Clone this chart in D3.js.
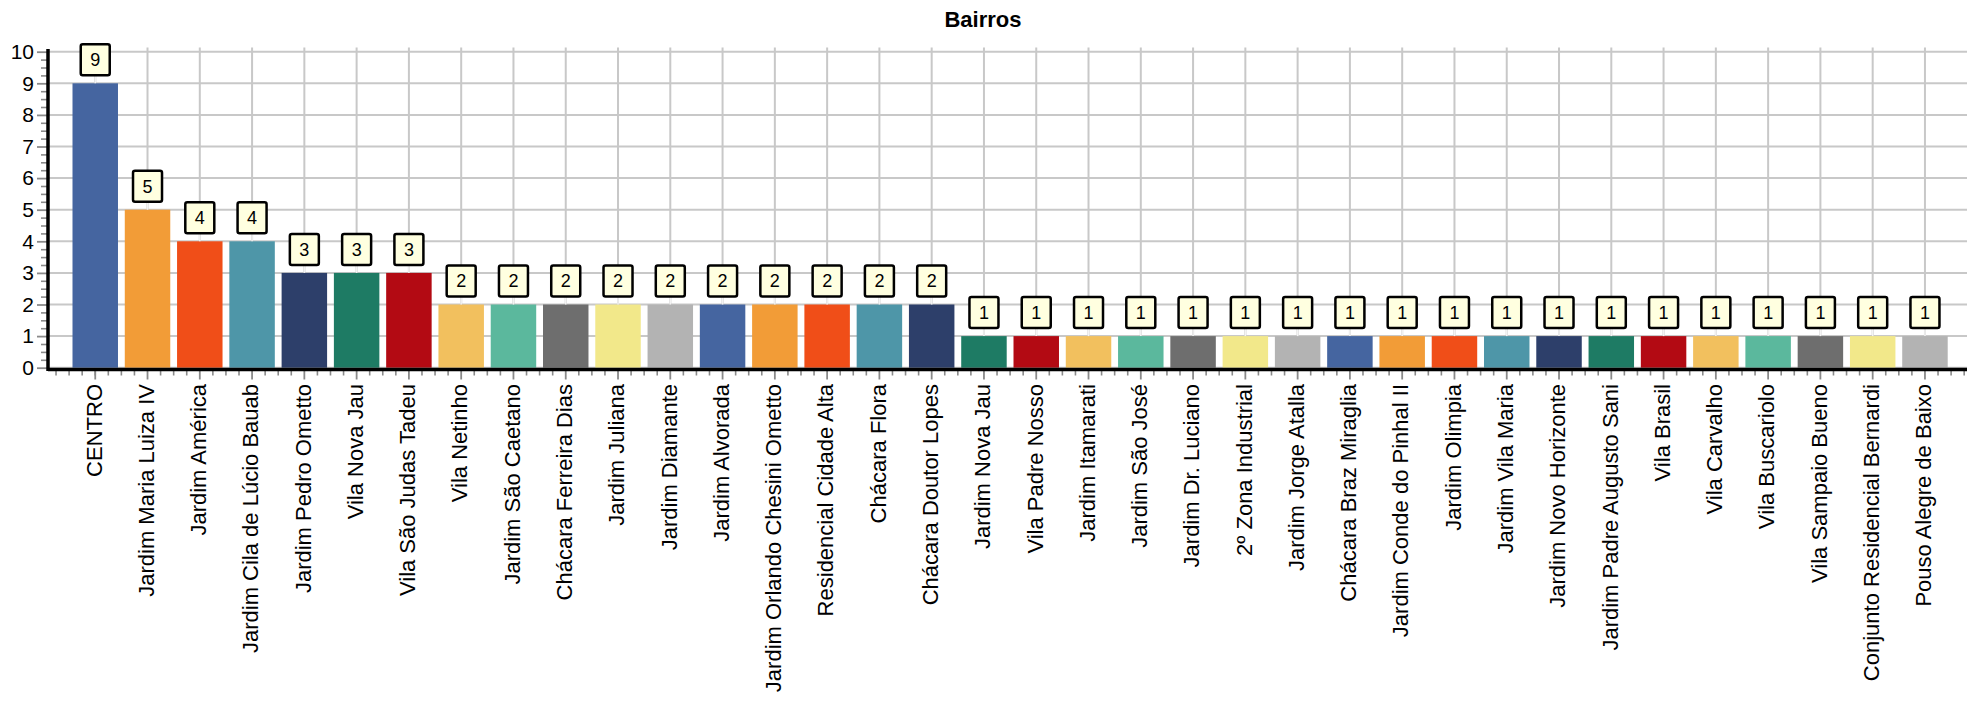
<!DOCTYPE html>
<html>
<head>
<meta charset="utf-8">
<script src="https://cdn.jsdelivr.net/npm/d3@7"></script>
<style>
  html, body { margin: 0; padding: 0; background: #fff; }
  svg { display: block; font-family: "Liberation Sans", Arial, sans-serif; }
</style>
</head>
<body>
<svg id="chart" width="1983" height="703"></svg>
<script>
const title = "Bairros";
const categories = [
  "CENTRO", "Jardim Maria Luiza IV", "Jardim América", "Jardim Cila de Lúcio Bauab",
  "Jardim Pedro Ometto", "Vila Nova Jau", "Vila São Judas Tadeu", "Vila Netinho",
  "Jardim São Caetano", "Chácara Ferreira Dias", "Jardim Juliana", "Jardim Diamante",
  "Jardim Alvorada", "Jardim Orlando Chesini Ometto", "Residencial Cidade Alta", "Chácara Flora",
  "Chácara Doutor Lopes", "Jardim Nova Jau", "Vila Padre Nosso", "Jardim Itamarati",
  "Jardim São José", "Jardim Dr. Luciano", "2º Zona Industrial", "Jardim Jorge Atalla",
  "Chácara Braz Miraglia", "Jardim Conde do Pinhal II", "Jardim Olimpia", "Jardim Vila Maria",
  "Jardim Novo Horizonte", "Jardim Padre Augusto Sani", "Vila Brasil", "Vila Carvalho",
  "Vila Buscariolo", "Vila Sampaio Bueno", "Conjunto Residencial Bernardi", "Pouso Alegre de Baixo"
];
const values = [9, 5, 4, 4, 3, 3, 3, 2, 2, 2, 2, 2, 2, 2, 2, 2, 2,
  1, 1, 1, 1, 1, 1, 1, 1, 1, 1, 1, 1, 1, 1, 1, 1, 1, 1, 1];
const yTickValues = [0, 1, 2, 3, 4, 5, 6, 7, 8, 9, 10];
const palette = ["#4565a0", "#f29c37", "#f04e18", "#4e96a8", "#2d3f6a", "#1e7b64",
  "#b30a13", "#f2c05e", "#5bb89d", "#6e6e6e", "#f2e88a", "#b3b3b3"];

const svg = d3.select("#chart");
const axisX0 = 48, axisX1 = 1967;
const y = d3.scaleLinear().domain([0, 10]).range([367.7, 51.7]);
const x = d3.scaleBand().domain(categories).range([69.1, 1951.1]).paddingInner(0.13).paddingOuter(0.065);
const bw = x.bandwidth();
const step = x.step();

// title
svg.append("text").attr("x", 983).attr("y", 27).attr("text-anchor", "middle")
  .attr("font-weight", "bold").attr("font-size", 22).attr("fill", "#000").text(title);

// horizontal gridlines
svg.append("g").selectAll("line").data(yTickValues).join("line")
  .attr("x1", axisX0).attr("x2", axisX1)
  .attr("y1", d => y(d)).attr("y2", d => y(d))
  .attr("stroke", "#c8c8c8").attr("stroke-width", 2);

// vertical gridlines
svg.append("g").selectAll("line").data(categories).join("line")
  .attr("x1", d => x(d) + bw / 2).attr("x2", d => x(d) + bw / 2)
  .attr("y1", 47.5).attr("y2", y(0))
  .attr("stroke", "#c8c8c8").attr("stroke-width", 2);

// bars
svg.append("g").selectAll("rect").data(categories).join("rect")
  .attr("x", d => x(d)).attr("width", bw)
  .attr("y", (d, i) => y(values[i])).attr("height", (d, i) => y(0) - y(values[i]))
  .attr("fill", (d, i) => palette[i % palette.length]);

// y minor ticks
const yMinor = d3.range(0, 10.001, 0.25).filter(v => Math.abs(v - Math.round(v)) > 1e-6);
svg.append("g").attr("transform", `translate(${axisX0 - 1},0)`)
  .call(d3.axisLeft(y).tickValues(yMinor).tickSize(6).tickFormat(""))
  .call(g => g.select(".domain").remove())
  .call(g => g.selectAll(".tick line").attr("stroke", "#8a8a8a").attr("stroke-width", 1.6));

// y major ticks + labels
svg.append("g").attr("transform", `translate(${axisX0 - 1},0)`)
  .call(d3.axisLeft(y).tickValues(yTickValues).tickSize(10).tickPadding(3).tickFormat(d3.format("d")))
  .call(g => g.select(".domain").remove())
  .call(g => g.selectAll(".tick line").attr("stroke", "#8a8a8a").attr("stroke-width", 1.8))
  .call(g => g.selectAll(".tick text").attr("font-size", 21).attr("fill", "#000")
    .attr("font-family", "Liberation Sans, Arial, sans-serif"));

// x minor ticks (quarter steps around band centres)
const xMinor = [];
categories.forEach((c, i) => {
  const cx = x(c) + bw / 2;
  for (let k = (i === 0 ? -3 : 1); k <= 3; k++) xMinor.push(cx + k * step / 4);
});
svg.append("g").selectAll("line").data(xMinor).join("line")
  .attr("x1", d => d).attr("x2", d => d).attr("y1", 370).attr("y2", 375.5)
  .attr("stroke", "#8a8a8a").attr("stroke-width", 1.6);

// x axis major ticks + labels
svg.append("g").attr("transform", `translate(0,${370})`)
  .call(d3.axisBottom(x).tickSize(9.5).tickPadding(0))
  .call(g => g.select(".domain").remove())
  .call(g => g.selectAll(".tick line").attr("stroke", "#8a8a8a").attr("stroke-width", 1.8))
  .call(g => g.selectAll(".tick text")
    .attr("font-size", 22).attr("fill", "#000")
    .attr("font-family", "Liberation Sans, Arial, sans-serif")
    .attr("text-anchor", "end")
    .attr("transform", "rotate(-90)")
    .attr("x", -14).attr("y", -1).attr("dy", "0.33em"));

// axis lines
svg.append("line").attr("x1", axisX0).attr("x2", axisX0).attr("y1", 49).attr("y2", 371)
  .attr("stroke", "#000").attr("stroke-width", 3.5);
svg.append("line").attr("x1", axisX0).attr("x2", axisX1).attr("y1", 369.5).attr("y2", 369.5)
  .attr("stroke", "#000").attr("stroke-width", 3.4);

// value labels
const lab = svg.append("g").selectAll("g").data(categories).join("g")
  .attr("transform", (d, i) => `translate(${x(d) + bw / 2},${y(values[i])})`);
lab.append("line").attr("x1", 0).attr("x2", 0).attr("y1", -8).attr("y2", 0)
  .attr("stroke", "#f4f4f4").attr("stroke-width", 1.5);
lab.append("rect").attr("x", -14.5).attr("y", -39).attr("width", 29).attr("height", 31)
  .attr("rx", 2).attr("fill", "#ffffe0").attr("stroke", "#000").attr("stroke-width", 2.5);
lab.append("text").attr("x", 0).attr("y", -23.5).attr("dy", "0.36em").attr("text-anchor", "middle")
  .attr("font-size", 18).attr("fill", "#000").text((d, i) => values[i]);
</script>
</body>
</html>
